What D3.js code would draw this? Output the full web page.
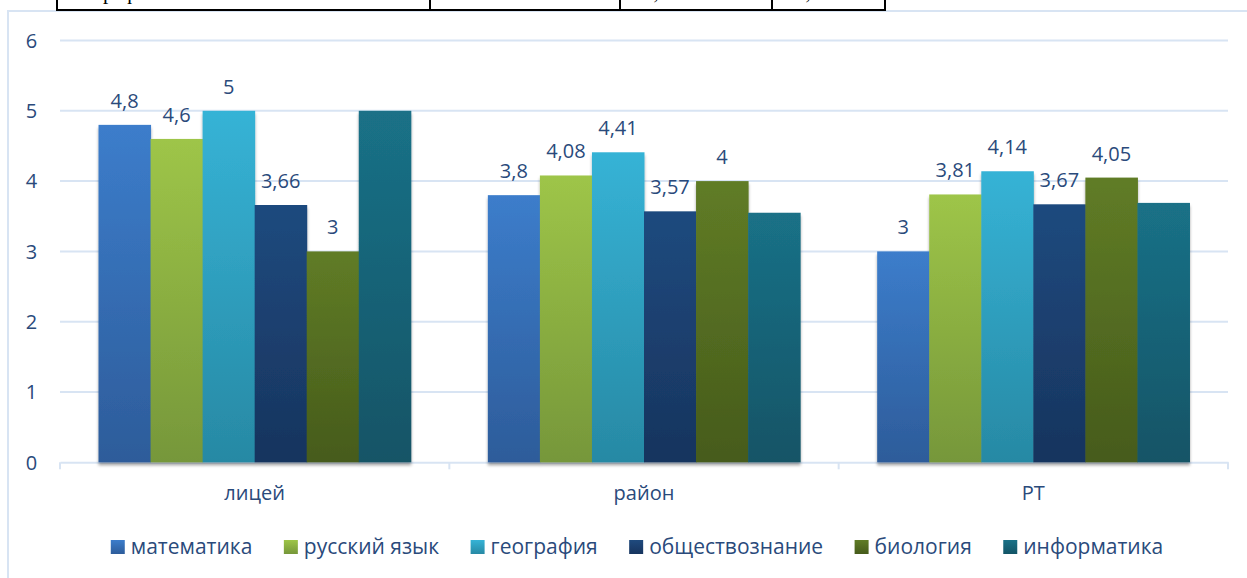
<!DOCTYPE html>
<html>
<head>
<meta charset="utf-8">
<script src="https://cdn.jsdelivr.net/npm/d3@7"></script>
<style>
  html, body { margin: 0; padding: 0; background: #fff; }
  svg { display: block; }
</style>
</head>
<body>
<svg width="1247" height="578"></svg>
<script>
const categories = ["лицей", "район", "РТ"];
const subjects = ["математика", "русский язык", "география", "обществознание", "биология", "информатика"];
const math = [4.8, 3.8, 3];
const russian = [4.6, 4.08, 3.81];
const geography = [5, 4.41, 4.14];
const social = [3.66, 3.57, 3.67];
const biology = [3, 4, 4.05];
const informatics = [5, 3.55, 3.69];
const seriesValues = [math, russian, geography, social, biology, informatics];
const showLabels = [true, true, true, true, true, false];
const yTicks = [0, 1, 2, 3, 4, 5, 6];

// table row cut off above the chart
const tableCells = ["География", "5", "4,41", "4,14"];

const topColors = ["#3c7dcb", "#9ec548", "#36b3d6", "#1f4a7e", "#607c26", "#1a7187"];
const bottomColors = ["#2d5c9a", "#76973a", "#2789a4", "#17345e", "#465b1b", "#135466"];
const textColor = "#2a4a7b";
const gridColor = "#d8e4f3";
const font = "'Open Sans', sans-serif";
const fontSize = 20;

const svg = d3.select("svg");
const defs = svg.append("defs");

subjects.forEach((s, i) => {
    const grad = defs.append("linearGradient")
        .attr("id", "grad" + i)
        .attr("x1", 0).attr("y1", 0).attr("x2", 0).attr("y2", 1);
    grad.append("stop").attr("offset", "0%").attr("stop-color", topColors[i]);
    grad.append("stop").attr("offset", "100%").attr("stop-color", bottomColors[i]);
});

defs.append("filter").attr("id", "shadow")
    .attr("x", "-10%").attr("y", "-10%").attr("width", "120%").attr("height", "130%")
    .append("feDropShadow")
    .attr("dx", 0).attr("dy", 3).attr("stdDeviation", 1.5)
    .attr("flood-color", "#000").attr("flood-opacity", 0.35);

// chart frame (continues past the picture edges)
svg.append("rect")
    .attr("x", 8).attr("y", 11)
    .attr("width", 1300).attr("height", 700)
    .attr("fill", "none")
    .attr("stroke", gridColor)
    .attr("stroke-width", 2);

// table fragment, cut by the top edge as in the source page
const tableLines = svg.append("g").attr("stroke", "#000").attr("stroke-width", 2);
tableLines.append("line").attr("x1", 56).attr("x2", 886).attr("y1", 10).attr("y2", 10);
[57, 430, 620, 772, 885].forEach(x => {
    tableLines.append("line").attr("x1", x).attr("x2", x).attr("y1", 0).attr("y2", 10);
});
const cellX = [64, 444, 643, 795];
tableCells.forEach((t, i) => {
    svg.append("text")
        .attr("x", cellX[i]).attr("y", -1)
        .attr("font-family", "'Liberation Serif', serif")
        .attr("font-size", 21)
        .attr("fill", "#000")
        .text(t);
});

const x0 = d3.scaleBand().domain(categories).range([60, 1228]).padding(0);
const x1 = d3.scaleBand().domain(subjects).range([0, x0.bandwidth()]).paddingInner(0).paddingOuter(0.74);
const y = d3.scaleLinear().domain([0, 6]).range([462.3, 40.5]);

// gridlines
svg.append("g").selectAll("line")
    .data(yTicks.filter(d => d > 0))
    .enter().append("line")
    .attr("x1", 60).attr("x2", 1228)
    .attr("y1", d => y(d)).attr("y2", d => y(d))
    .attr("stroke", gridColor).attr("stroke-width", 2);

// y tick labels
svg.append("g").selectAll("text")
    .data(yTicks)
    .enter().append("text")
    .attr("x", 31.5)
    .attr("y", d => y(d))
    .attr("dy", "0.36em")
    .attr("text-anchor", "middle")
    .attr("font-family", font)
    .attr("font-size", fontSize)
    .attr("fill", textColor)
    .text(d => d);

// x axis
const xAxis = svg.append("g")
    .attr("transform", `translate(0,${y(0)})`)
    .call(d3.axisBottom(x0).tickSize(0).tickFormat(""));
xAxis.select(".domain").attr("stroke", gridColor).attr("stroke-width", 2);
const bounds = categories.map(c => x0(c)).concat([x0.range()[1]]);
xAxis.selectAll(".bound")
    .data(bounds)
    .enter().append("line")
    .attr("x1", d => d).attr("x2", d => d)
    .attr("y1", 0).attr("y2", 7)
    .attr("stroke", gridColor).attr("stroke-width", 2);

svg.append("g").selectAll("text")
    .data(categories)
    .enter().append("text")
    .attr("x", d => x0(d) + x0.bandwidth() / 2)
    .attr("y", 500)
    .attr("text-anchor", "middle")
    .attr("font-family", font)
    .attr("font-size", fontSize)
    .attr("fill", textColor)
    .text(d => d);

// bars
const groups = svg.append("g").selectAll("g")
    .data(categories)
    .enter().append("g")
    .attr("transform", d => `translate(${x0(d)},0)`)
    .attr("filter", "url(#shadow)");

groups.selectAll("rect")
    .data((c, ci) => subjects.map((s, si) => ({s, si, v: seriesValues[si][ci]})))
    .enter().append("rect")
    .attr("x", d => x1(d.s))
    .attr("y", d => y(d.v))
    .attr("width", x1.bandwidth() + 0.5)
    .attr("height", d => y(0) - y(d.v))
    .attr("fill", d => `url(#grad${d.si})`);

// data labels
categories.forEach((c, ci) => {
    subjects.forEach((s, si) => {
        if (!showLabels[si]) return;
        const v = seriesValues[si][ci];
        svg.append("text")
            .attr("x", x0(c) + x1(s) + x1.bandwidth() / 2)
            .attr("y", y(v) - 17)
            .attr("text-anchor", "middle")
            .attr("font-family", font)
            .attr("font-size", fontSize)
            .attr("fill", textColor)
            .text(String(v).replace(".", ","));
    });
});

// legend
const legend = svg.append("g");
const items = legend.selectAll("g")
    .data(subjects)
    .enter().append("g");
items.append("rect")
    .attr("width", 14).attr("height", 14)
    .attr("y", 540)
    .attr("fill", (d, i) => `url(#grad${i})`);
items.append("text")
    .attr("x", 20)
    .attr("y", 554)
    .attr("font-family", font)
    .attr("font-size", 21)
    .attr("fill", textColor)
    .text(d => d);

let widths = [];
items.each(function() {
    widths.push(20 + d3.select(this).select("text").node().getComputedTextLength());
});
const gap = 31.5;
const total = d3.sum(widths) + gap * (widths.length - 1);
let cx = 637 - total / 2;
items.attr("transform", (d, i) => {
    const t = `translate(${cx},0)`;
    cx += widths[i] + gap;
    return t;
});
</script>
</body>
</html>
